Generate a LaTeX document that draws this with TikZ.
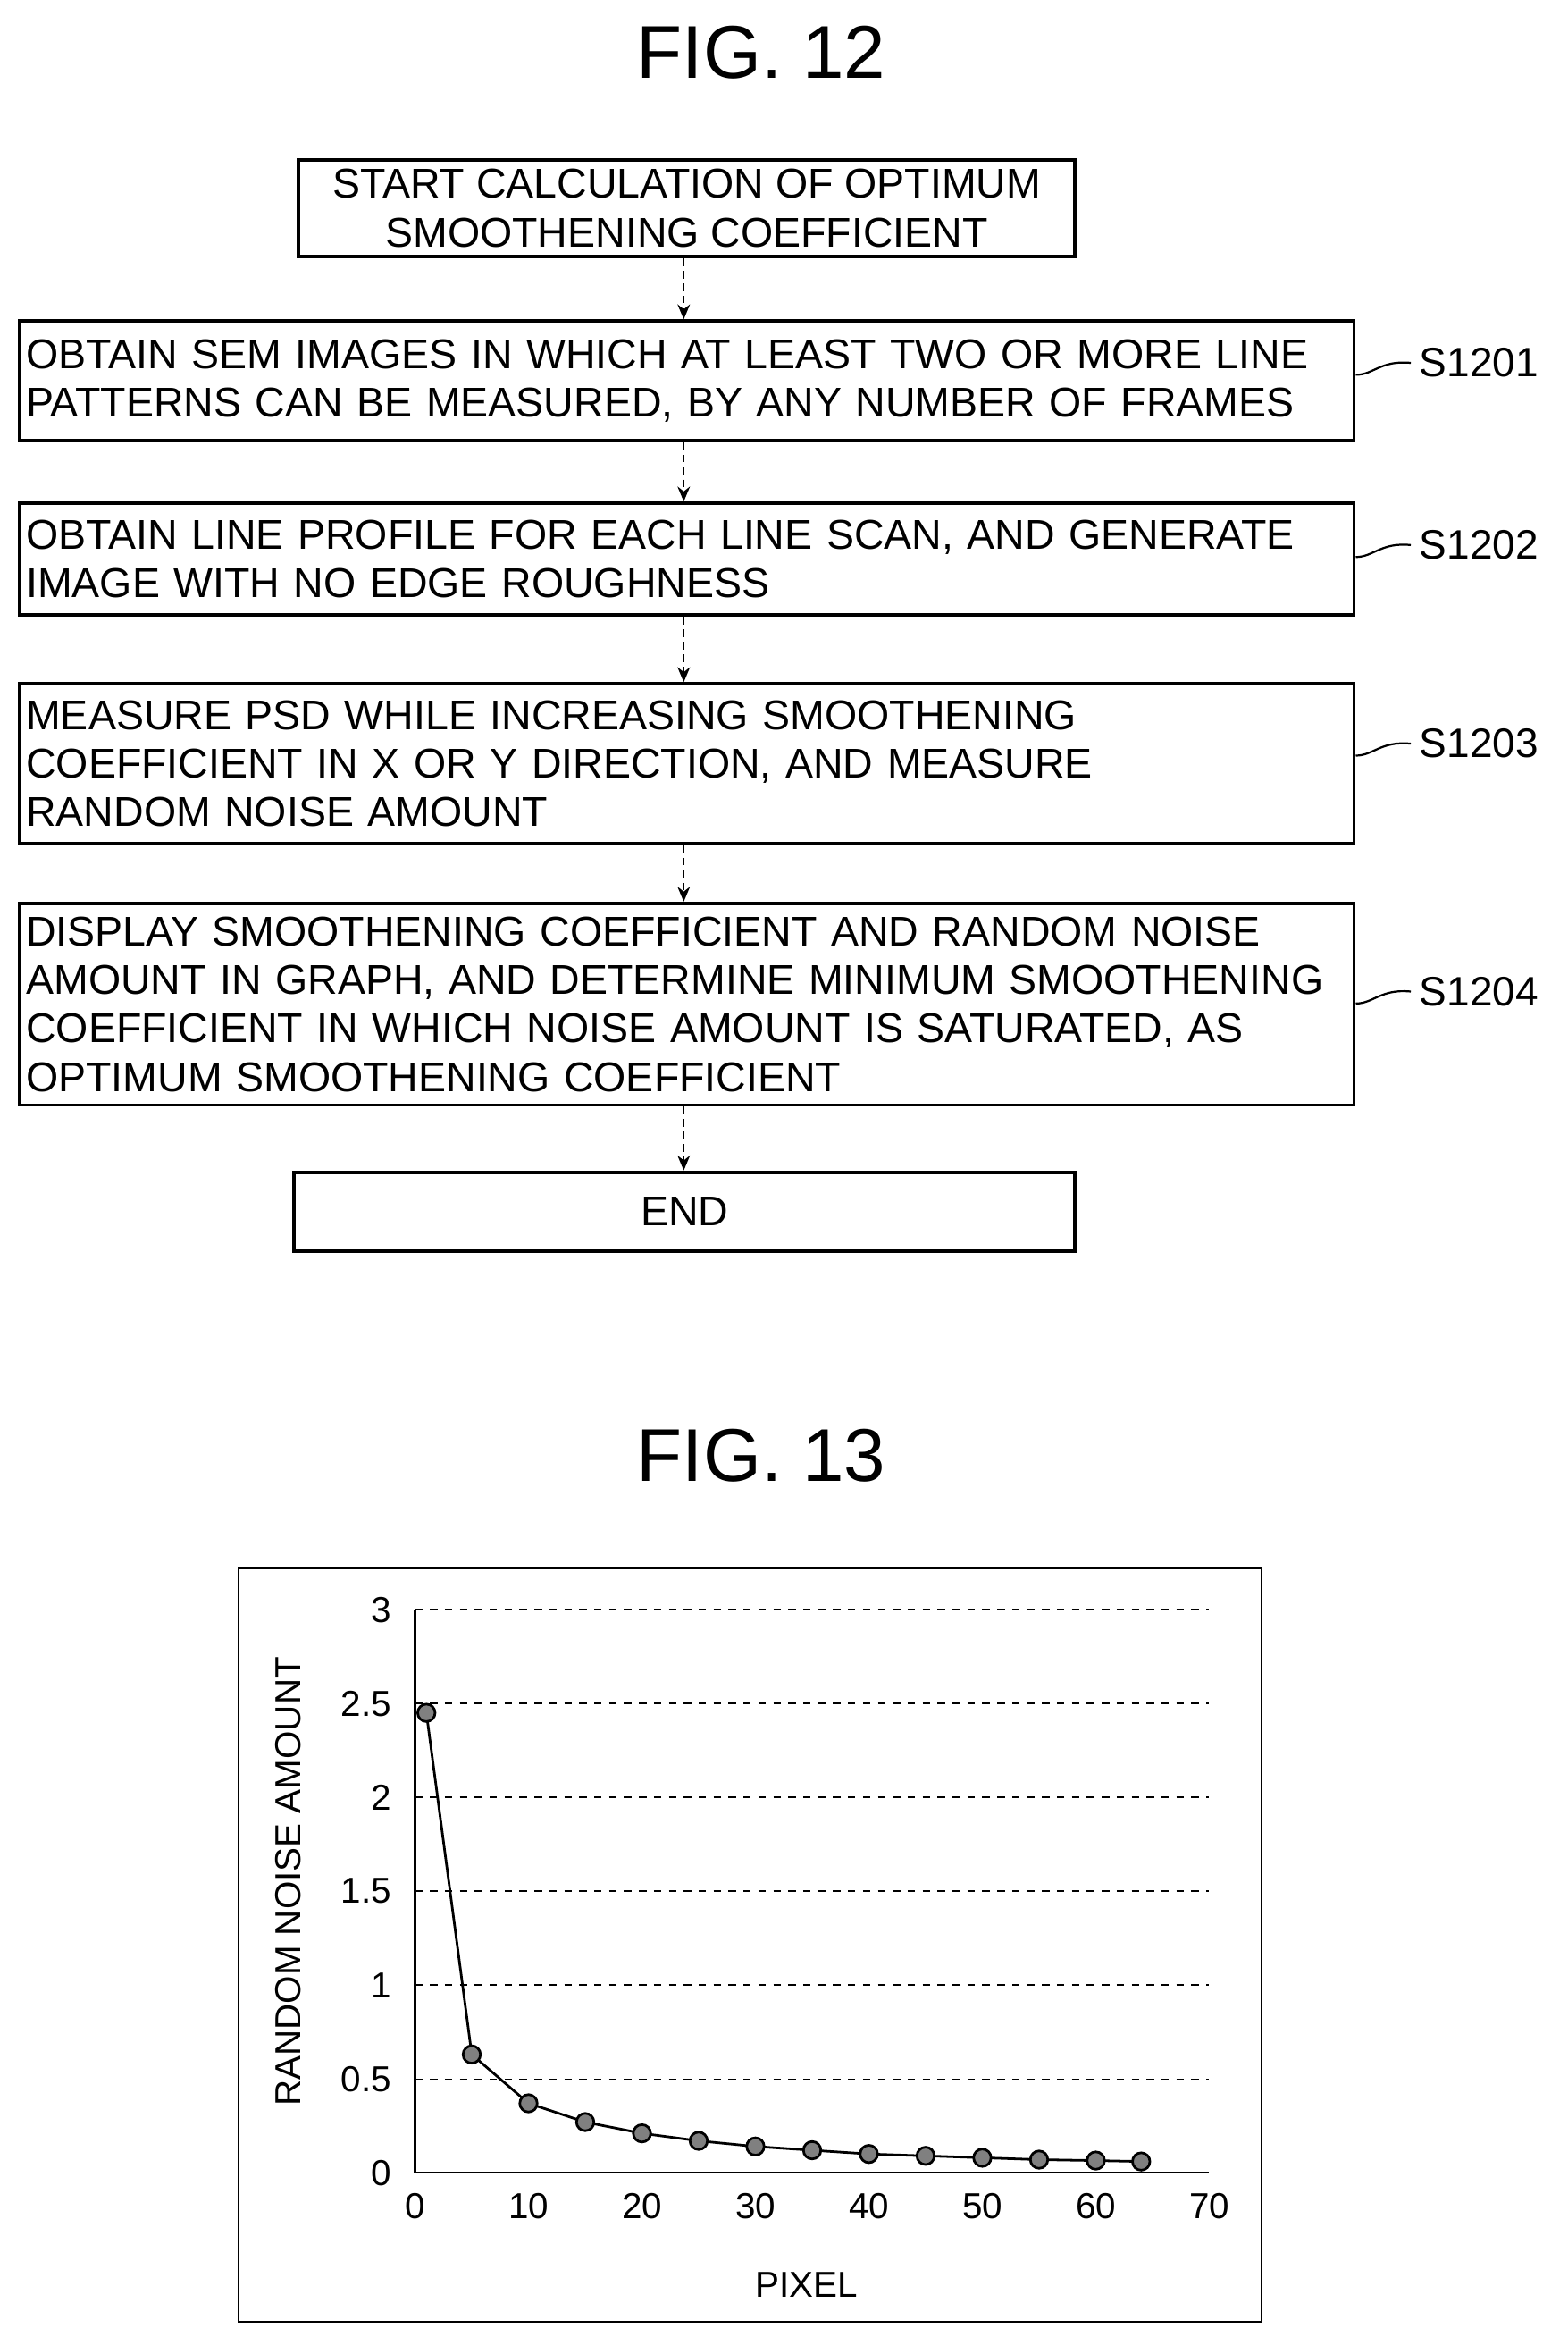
\documentclass[tikz,border=0pt]{standalone}
\usepackage{fontspec}
\setmainfont{Liberation Sans}
\usetikzlibrary{arrows.meta}
\begin{document}
\hyphenpenalty=10000 \exhyphenpenalty=10000
\begin{tikzpicture}[x=0.6pt,y=-0.6pt,
 box/.style={draw,line width=1.4pt,inner sep=0pt,font=\fontsize{16.7}{19.5}\selectfont},
 lbl/.style={font=\fontsize{16.5}{19}\selectfont,anchor=west},
 arr/.style={densely dashed,line width=0.8pt,-{Stealth[length=6pt,width=5pt]}},
 lead/.style={line width=0.8pt},
 tick/.style={font=\fontsize{14.5}{16}\selectfont}]
\useasboundingbox (0,0) rectangle (1050,1565);
\node[font=\fontsize{30}{34}\selectfont] (f12) at (510,35) {FIG. 12};
\node[box,minimum width=312pt,minimum height=39pt,align=center] (b0) at (460,139.5) {START CALCULATION OF OPTIMUM\\SMOOTHENING COEFFICIENT};
\node[box,minimum width=536.4pt,minimum height=48pt,align=left,text width=531pt] (b1) at (460,255) {OBTAIN SEM IMAGES IN WHICH AT LEAST TWO OR MORE LINE\\PATTERNS CAN BE MEASURED, BY ANY NUMBER OF FRAMES};
\node[box,minimum width=536.4pt,minimum height=45pt,align=left,text width=531pt] (b2) at (460,374.5) {OBTAIN LINE PROFILE FOR EACH LINE SCAN, AND GENERATE\\IMAGE WITH NO EDGE ROUGHNESS};
\node[box,minimum width=536.4pt,minimum height=64.2pt,align=left,text width=531pt] (b3) at (460,511.5) {MEASURE PSD WHILE INCREASING SMOOTHENING\\COEFFICIENT IN X OR Y DIRECTION, AND MEASURE\\RANDOM NOISE AMOUNT};
\node[box,minimum width=536.4pt,minimum height=81pt,align=left,text width=531pt] (b4) at (460,672.5) {DISPLAY SMOOTHENING COEFFICIENT AND RANDOM NOISE\\AMOUNT IN GRAPH, AND DETERMINE MINIMUM SMOOTHENING\\COEFFICIENT IN WHICH NOISE AMOUNT IS SATURATED, AS\\OPTIMUM SMOOTHENING COEFFICIENT};
\node[box,minimum width=313.8pt,minimum height=31.8pt,align=center] (b5) at (458.5,811.5) {END};
\foreach \a/\b in {b0/b1,b1/b2,b2/b3,b3/b4,b4/b5} \draw[arr] (\a.south -| 458,0) -- (\b.north -| 458,0);
\foreach \b/\t/\y in {b1/S1201/243,b2/S1202/365,b3/S1203/498,b4/S1204/664} {
 \node[lbl] (l\t) at (945,\y) {\t};
 \draw[lead] (\b.east |- 0,\y+8) .. controls (920,\y+8) and (925,\y-2) .. (l\t.west);
}
\node[font=\fontsize{30}{34}\selectfont] (f13) at (510,975) {FIG. 13};
\node[draw,line width=0.8pt,minimum width=411pt,minimum height=303pt,inner sep=0pt] (chart) at (502.5,1302.5) {};
\foreach \v in {0.5,1,...,3} \draw[dashed,line width=0.5pt] (278,1455-125.7*\v) -- (810,1455-125.7*\v);
\draw[line width=0.8pt] (278,1455-377) -- (278,1455) -- (810,1455);
\foreach \v/\s in {0/0,0.5/05,1/1,1.5/15,2/2,2.5/25,3/3} \node[tick,anchor=east] (yt\s) at (268,1455-125.7*\v) {\v};
\foreach \v in {0,10,...,70} \node[tick,anchor=north] (xt\v) at (278+7.6*\v,1463) {\v};
\node[tick] (xl) at (540,1530) {PIXEL};
\node[tick,rotate=90] (yl) at (193,1260) {RANDOM NOISE AMOUNT};
\draw[line width=1pt] plot[mark=*,mark size=3.5pt,mark options={fill=gray}] coordinates {
(278+7.6*1,1455-125.7*2.45)(278+7.6*5,1455-125.7*0.63)(278+7.6*10,1455-125.7*0.37)(278+7.6*15,1455-125.7*0.27)(278+7.6*20,1455-125.7*0.21)(278+7.6*25,1455-125.7*0.17)(278+7.6*30,1455-125.7*0.14)(278+7.6*35,1455-125.7*0.12)(278+7.6*40,1455-125.7*0.10)(278+7.6*45,1455-125.7*0.09)(278+7.6*50,1455-125.7*0.08)(278+7.6*55,1455-125.7*0.07)(278+7.6*60,1455-125.7*0.065)(278+7.6*64,1455-125.7*0.06)};
\end{tikzpicture}
\end{document}
